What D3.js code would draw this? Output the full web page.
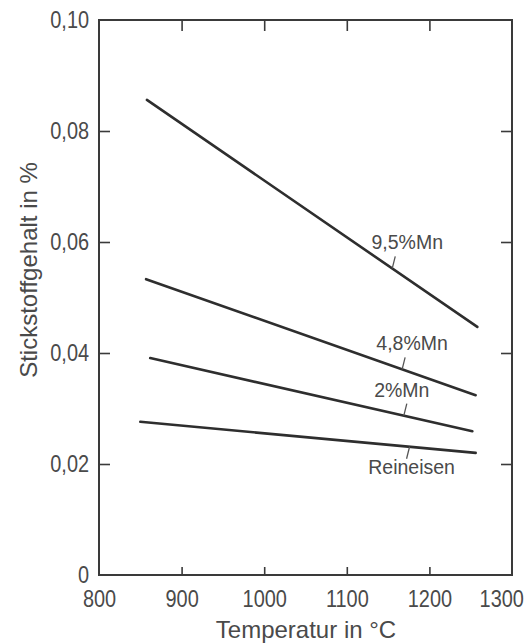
<!DOCTYPE html>
<html>
<head>
<meta charset="utf-8">
<script src="https://cdn.jsdelivr.net/npm/d3@7"></script>
<style>
  html, body { margin: 0; padding: 0; background: #fff; }
  text { font-family: "Liberation Sans", Arial, sans-serif; fill: #4a4a4a; }
</style>
</head>
<body>
<svg id="chart" width="528" height="644"></svg>
<script>
// Nitrogen solubility vs. temperature for iron with different Mn contents
const seriesNames = ["9,5%Mn", "4,8%Mn", "2%Mn", "Reineisen"];
const startTemp   = [858, 857, 862, 850];
const startN      = [0.0856, 0.0533, 0.0391, 0.0276];
const endTemp     = [1258, 1256, 1252, 1256];
const endN        = [0.0447, 0.0324, 0.0259, 0.0220];
// temperature where each label's leader meets its line
const labelTemp   = [1155, 1167, 1169, 1176];
const labelAbove  = [true, true, true, false];

const xTicks = [800, 900, 1000, 1100, 1200, 1300];
const yTicks = [0, 0.02, 0.04, 0.06, 0.08, 0.10];
const yTickLabels = ["0", "0,02", "0,04", "0,06", "0,08", "0,10"];

// label placement relative to the leader foot (layout only)
const labelShift = [15, 10, -2, 2];

const m = { left: 99, right: 512, top: 20, bottom: 575 };
const x = d3.scaleLinear().domain([800, 1300]).range([m.left, m.right]);
const y = d3.scaleLinear().domain([0, 0.10]).range([m.bottom, m.top]);

const svg = d3.select("#chart");
const ink = "#3a3a3a";
const squeeze = 0.83; // narrow stencil-style digits

// inner ticks on all four sides
const tickLen = 11;
const axB = svg.append("g").attr("transform", `translate(0,${m.bottom})`)
  .call(d3.axisBottom(x).tickValues(xTicks).tickSizeInner(-8).tickSizeOuter(0).tickPadding(15)
        .tickFormat(d3.format("d")));
const axT = svg.append("g").attr("transform", `translate(0,${m.top})`)
  .call(d3.axisTop(x).tickValues(xTicks.slice(1, -1)).tickSizeInner(-tickLen).tickSizeOuter(0).tickFormat(""));
const axL = svg.append("g").attr("transform", `translate(${m.left},0)`)
  .call(d3.axisLeft(y).tickValues(yTicks).tickSizeInner(-tickLen).tickSizeOuter(0).tickPadding(12)
        .tickFormat((d, i) => yTickLabels[i]));
const axR = svg.append("g").attr("transform", `translate(${m.right},0)`)
  .call(d3.axisRight(y).tickValues(yTicks.slice(1, -1)).tickSizeInner(-tickLen).tickSizeOuter(0).tickFormat(""));

[axB, axT, axL, axR].forEach(a => {
  a.select(".domain").remove();
  a.selectAll(".tick line").attr("stroke", ink).attr("stroke-width", 1.6);
  a.selectAll("text").attr("fill", "#4a4a4a").style("font-size", "24px").attr("font-family", null);
});
axB.selectAll(".tick text").attr("transform", `scale(${squeeze},1)`);
axL.selectAll(".tick text").attr("transform", `scale(${squeeze},1)`);
// no tick marks at the frame corners
axB.selectAll(".tick").filter(d => d === 800 || d === 1300).select("line").remove();
axL.selectAll(".tick").filter(d => d === 0 || d === 0.10).select("line").remove();
// last x label sits a little left to stay inside the page
axB.selectAll(".tick text").filter(d => d === 1300).attr("dx", -13);

// frame
svg.append("rect")
  .attr("x", x(800)).attr("y", y(0.10))
  .attr("width", x(1300) - x(800)).attr("height", y(0) - y(0.10))
  .attr("fill", "none").attr("stroke", ink).attr("stroke-width", 2);

// data lines
const line = d3.line().x(d => x(d[0])).y(d => y(d[1]));
seriesNames.forEach((name, i) => {
  svg.append("path")
    .datum([[startTemp[i], startN[i]], [endTemp[i], endN[i]]])
    .attr("d", line)
    .attr("fill", "none").attr("stroke", "#2e2e2e").attr("stroke-width", 2.6)
    .attr("stroke-linecap", "round");

  const t = labelTemp[i];
  const n = startN[i] + (endN[i] - startN[i]) * (t - startTemp[i]) / (endTemp[i] - startTemp[i]);
  const px = x(t), py = y(n);
  const dir = labelAbove[i] ? -1 : 1;
  // short leader from the line to the label
  svg.append("line")
    .attr("x1", px).attr("y1", py)
    .attr("x2", px + 3 * (labelAbove[i] ? 1 : -1)).attr("y2", py + dir * 12)
    .attr("stroke", "#555").attr("stroke-width", 1.3);
  svg.append("text")
    .attr("x", px + labelShift[i])
    .attr("y", labelAbove[i] ? py - 19 : py + 27)
    .attr("text-anchor", "middle")
    .style("font-size", "19.5px")
    .text(name);
});

// axis titles
svg.append("text")
  .attr("x", 306).attr("y", 638)
  .attr("text-anchor", "middle")
  .style("font-size", "24px")
  .text("Temperatur in °C");
svg.append("text")
  .attr("transform", "translate(37,270) rotate(-90)")
  .attr("text-anchor", "middle")
  .style("font-size", "24px")
  .text("Stickstoffgehalt in %");
</script>
</body>
</html>
